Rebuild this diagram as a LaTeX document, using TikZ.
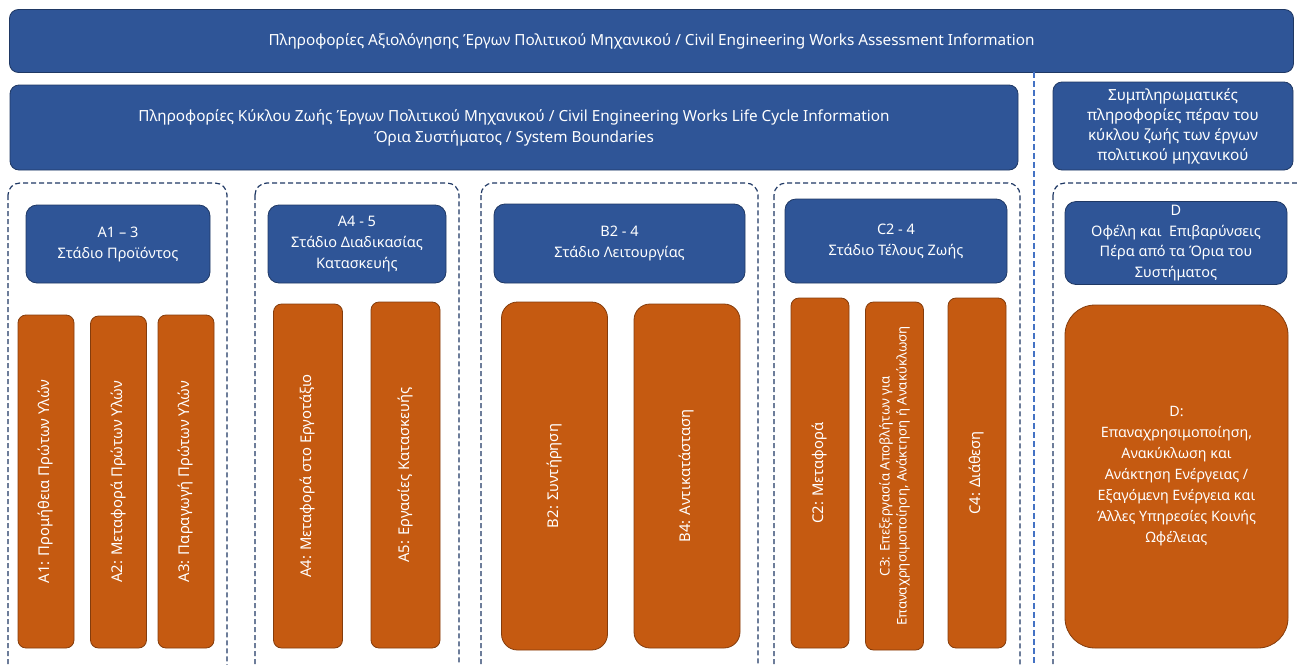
\documentclass[tikz,border=0pt]{standalone}
\usepackage{fontspec}
\setmainfont{Noto Sans}
\usetikzlibrary{positioning}
\definecolor{stageblue}{HTML}{2F5597}
\definecolor{stageline}{HTML}{1F3864}
\definecolor{moduleorange}{HTML}{C55A11}
\definecolor{moduleline}{HTML}{843C0C}
\definecolor{splitblue}{HTML}{4472C4}
\begin{document}
\begin{tikzpicture}[x=1pt, y=-1pt,
every node/.style = {text=white, align=center, inner sep=0pt, outer sep=0pt,
                     font=\fontsize{14.5}{21}\selectfont},
 infobar/.style = {fill=stageblue, draw=stageline, line width=0.8pt,
                   rounded corners=9pt},
  header/.style = {infobar, rounded corners=11pt},
  module/.style = {fill=moduleorange, draw=moduleline, line width=0.8pt,
                   rounded corners=8pt, rotate=90,
                   font=\fontsize{14.8}{17}\selectfont},
groupbox/.style = {draw=stageline, line width=1.2pt, dash pattern=on 5pt off 3pt,
                   rounded corners=12pt}
                    ]
	\clip (0,0) rectangle (1297,664);
	% information bars
	\node[infobar, minimum width=1284pt, minimum height=63pt,
	      font=\fontsize{15.3}{21}\selectfont] (assess) at (651.5,41)
	  {Πληροφορίες Αξιολόγησης Έργων Πολιτικού Μηχανικού / Civil Engineering Works Assessment Information};
	\node[infobar, minimum width=1008pt, minimum height=85pt,
	      font=\fontsize{15.3}{21}\selectfont] (lifecycle) at (514,127.5)
	  {Πληροφορίες Κύκλου Ζωής Έργων Πολιτικού Μηχανικού / Civil Engineering Works Life Cycle Information\\
	   Όρια Συστήματος / System Boundaries};
	\node[infobar, minimum width=240pt, minimum height=88pt,
	      font=\fontsize{15.3}{20}\selectfont] (beyond) at (1173,126)
	  {Συμπληρωματικές\\πληροφορίες πέραν του\\κύκλου ζωής των έργων\\πολιτικού μηχανικού};

	% split between life cycle and module D
	\coordinate (split top) at (1034,72);
	\coordinate (split end) at (1034,670);
	\draw[splitblue, line width=2.4pt, dash pattern=on 6pt off 3pt] (split top) -- (split end);

	% dashed stage groups
	\draw[groupbox] (8,183)    rectangle (227,680);
	\draw[groupbox] (255,183)  rectangle (459,680);
	\draw[groupbox] (481,183)  rectangle (758,680);
	\draw[groupbox] (774,183)  rectangle (1020,680);
	\draw[groupbox] (1053,183) rectangle (1320,680);

	% stage headers
	\node[header, minimum width=184pt, minimum height=78pt] (stageA13) at (118,244)
	  {A1 – 3\\Στάδιο Προϊόντος};
	\node[header, minimum width=178pt, minimum height=78pt] (stageA45) at (357,244)
	  {A4 - 5\\Στάδιο Διαδικασίας\\Κατασκευής};
	\node[header, minimum width=251pt, minimum height=79pt] (stageB24) at (619.5,243.5)
	  {B2 - 4\\Στάδιο Λειτουργίας};
	\node[header, minimum width=222pt, minimum height=84pt] (stageC24) at (896,241)
	  {C2 - 4\\Στάδιο Τέλους Ζωής};
	\node[header, minimum width=222pt, minimum height=83pt,
	      font=\fontsize{14.5}{20.5}\selectfont] (stageD) at (1176,243)
	  {D\\Οφέλη και \ Επιβαρύνσεις\\Πέρα από τα Όρια του\\Συστήματος};

	% modules
	\node[module, minimum width=333pt, minimum height=56pt] (modA1) at (46,481.5)
	  {A1: Προμήθεια Πρώτων Υλών};
	\node[module, minimum width=332pt, minimum height=56pt] (modA2) at (118.5,482)
	  {A2: Μεταφορά Πρώτων Υλών};
	\node[module, minimum width=333pt, minimum height=56pt] (modA3) at (186,481.5)
	  {A3: Παραγωγή Πρώτων Υλών};
	\node[module, minimum width=344pt, minimum height=69pt] (modA4) at (308,476)
	  {A4: Μεταφορά στο Εργοτάξιο};
	\node[module, minimum width=346pt, minimum height=69pt] (modA5) at (405.5,475)
	  {A5: Εργασίες Κατασκευής};
	\node[module, rounded corners=16pt, minimum width=348pt, minimum height=106pt] (modB2) at (554.5,476)
	  {B2: Συντήρηση};
	\node[module, rounded corners=16pt, minimum width=344pt, minimum height=106pt] (modB4) at (687,476)
	  {B4: Αντικατάσταση};
	\node[module, minimum width=350pt, minimum height=58pt] (modC2) at (820,473)
	  {C2: Μεταφορά};
	\node[module, minimum width=348pt, minimum height=58pt,
	      font=\fontsize{13.3}{17}\selectfont] (modC3) at (894.5,476)
	  {C3: Επεξεργασία Αποβλήτων για\\Επαναχρησιμοποίηση, Ανάκτηση ή Ανακύκλωση};
	\node[module, minimum width=350pt, minimum height=58pt] (modC4) at (977,473)
	  {C4: Διάθεση};
	\node[module, rotate=-90, rounded corners=30pt, minimum width=223pt, minimum height=343pt,
	      font=\fontsize{14.3}{21}\selectfont] (modD) at (1176.5,476.5)
	  {D:\\Επαναχρησιμοποίηση,\\Ανακύκλωση και\\Ανάκτηση Ενέργειας /\\Εξαγόμενη Ενέργεια και\\Άλλες Υπηρεσίες Κοινής\\Ωφέλειας};
\end{tikzpicture}
\end{document}
